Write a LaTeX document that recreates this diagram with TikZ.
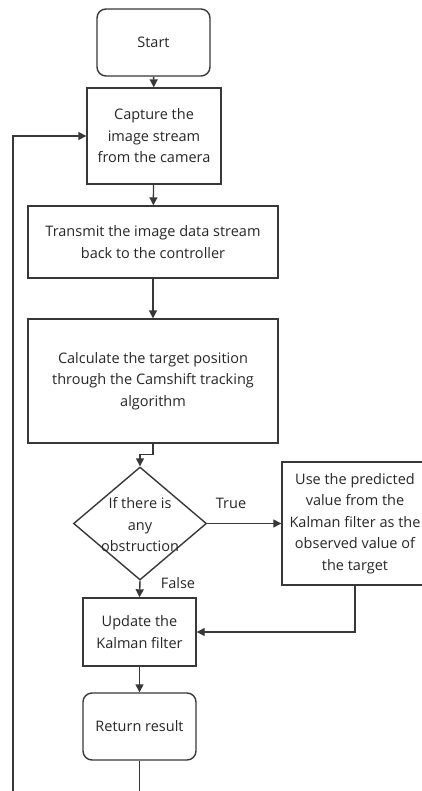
\documentclass[tikz,border=0pt]{standalone}
\usepackage{fontspec}
\setmainfont{Open Sans}
\usepackage{tikz}
\usetikzlibrary{shapes.geometric, arrows.meta}

\begin{document}
\begin{tikzpicture}[x=1pt, y=-1pt, line width=1.4pt, color=black!78,
  every node/.style={font=\fontsize{14.5}{21.5}\selectfont, text=black!85, align=center, inner sep=0pt},
  proc/.style={draw, rectangle},
  term/.style={draw, rectangle, rounded corners=9pt},
  dec/.style={draw, diamond},
  arr/.style={-{Triangle[length=8pt, width=8pt]}}]
      \useasboundingbox (0,0) rectangle (422,791);
      \clip (0,0) rectangle (422,791);
      \node[term, minimum width=113pt, minimum height=67pt] (start) at (153.5,42.5) {Start};
      \node[proc, minimum width=134pt, minimum height=96pt] (cap) at (154,136) {Capture the\\image stream\\from the camera};
      \node[proc, minimum width=250pt, minimum height=72pt] (trans) at (153,242) {Transmit the image data stream\\back to the controller};
      \node[proc, minimum width=250pt, minimum height=124pt] (calc) at (153,381) {Calculate the target position\\through the Camshift tracking\\algorithm};
      \node[dec, minimum width=133pt, minimum height=113pt] (obs) at (140,523.5) {};
      \node (obstxt) at (140,525) {If there is\\any\\obstruction};
      \node[proc, minimum width=146pt, minimum height=123pt] (use) at (355,523.5) {Use the predicted\\value from the\\Kalman filter as the\\observed value of\\the target};
      \node[proc, minimum width=113pt, minimum height=68pt] (upd) at (139.5,632) {Update the\\Kalman filter};
      \node[term, minimum width=113pt, minimum height=67pt] (ret) at (139.5,726.5) {Return result};
      \node (true) at (231,503) {True};
      \node (false) at (178,583) {False};
      \coordinate (loop) at (13,800);
\draw[arr] (start)--(cap);
\draw[arr] (cap)--(trans);
\draw[arr] (trans)--(calc);
\draw[arr] (calc.south)--++(0,11)-|(obs.north);
\draw[arr] (obs.east)--(use.west);
\draw[arr] (obs.south)--(upd.north);
\draw[arr] (use.south)|-(upd.east);
\draw[arr] (upd)--(ret);
\draw[arr] (ret.south)|-(loop)|-(cap.west);
      \end{tikzpicture}
\end{document}
